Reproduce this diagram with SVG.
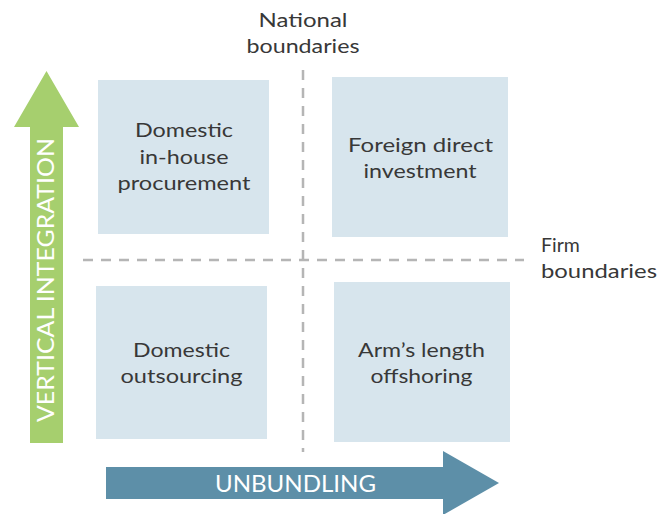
<svg xmlns="http://www.w3.org/2000/svg" width="671" height="514" viewBox="0 0 671 514">
<style>
.box{fill:#d7e5ed}
.lbl{font-family:Lato,"Liberation Sans",sans-serif;font-size:19.5px;fill:#383838;text-anchor:middle}
.side{font-family:Lato,"Liberation Sans",sans-serif;font-size:19.5px;fill:#383838}
.arrowtxt{font-family:Lato,"Liberation Sans",sans-serif;font-size:23px;fill:#ffffff;text-anchor:middle}
.dash{stroke:#b5b5b5;stroke-width:2.5;stroke-dasharray:10 8;fill:none}
</style>
<rect width="671" height="514" fill="#ffffff"/>
<g id="connectors">
<line class="dash" x1="303" y1="70" x2="303" y2="452"/>
<line class="dash" x1="83" y1="260" x2="524" y2="260"/>
</g>
<g id="vertical-integration">
<polygon points="46.5,71 79,127 63,127 63,443 30,443 30,127 14,127" fill="#a6cf6e"/>
<text class="arrowtxt" transform="translate(54,280) rotate(-90)" textLength="284" lengthAdjust="spacingAndGlyphs">VERTICAL INTEGRATION</text>
</g>
<g id="unbundling">
<polygon points="106,467 443,467 443,451 499,483 443,515 443,499 106,499" fill="#5d8fa8"/>
<text class="arrowtxt" x="295.5" y="492" textLength="161" lengthAdjust="spacingAndGlyphs">UNBUNDLING</text>
</g>
<g id="national-boundaries">
<text class="lbl" x="303" y="27" textLength="89" lengthAdjust="spacingAndGlyphs">National</text>
<text class="lbl" x="303" y="53" textLength="113" lengthAdjust="spacingAndGlyphs">boundaries</text>
</g>
<g id="firm-boundaries">
<text class="side" x="541" y="252">Firm</text>
<text class="side" x="541" y="278" textLength="116" lengthAdjust="spacingAndGlyphs">boundaries</text>
</g>
<g id="domestic-inhouse">
<rect class="box" x="98" y="80" width="171" height="154"/>
<text class="lbl" x="184" y="137" textLength="98" lengthAdjust="spacingAndGlyphs">Domestic</text>
<text class="lbl" x="184" y="163.5" textLength="89" lengthAdjust="spacingAndGlyphs">in-house</text>
<text class="lbl" x="184" y="190" textLength="133" lengthAdjust="spacingAndGlyphs">procurement</text>
</g>
<g id="fdi">
<rect class="box" x="332" y="77" width="176" height="160"/>
<text class="lbl" x="420.5" y="152" textLength="145" lengthAdjust="spacingAndGlyphs">Foreign direct</text>
<text class="lbl" x="420" y="178" textLength="113" lengthAdjust="spacingAndGlyphs">investment</text>
</g>
<g id="domestic-outsourcing">
<rect class="box" x="96" y="286" width="171" height="153"/>
<text class="lbl" x="181.5" y="357" textLength="97" lengthAdjust="spacingAndGlyphs">Domestic</text>
<text class="lbl" x="181.5" y="383" textLength="122" lengthAdjust="spacingAndGlyphs">outsourcing</text>
</g>
<g id="offshoring">
<rect class="box" x="334" y="282" width="176" height="160"/>
<text class="lbl" x="421.5" y="357" textLength="127" lengthAdjust="spacingAndGlyphs">Arm’s length</text>
<text class="lbl" x="421.5" y="383" textLength="102" lengthAdjust="spacingAndGlyphs">offshoring</text>
</g>
</svg>
